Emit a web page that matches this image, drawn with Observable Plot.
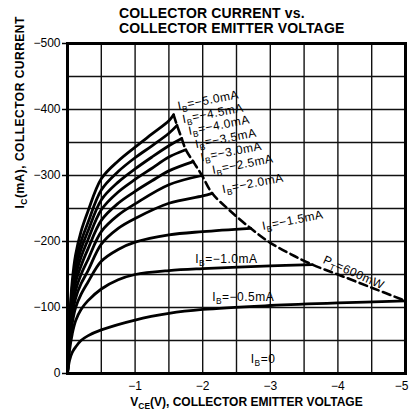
<!DOCTYPE html>
<html><head><meta charset="utf-8">
<script src="https://cdn.jsdelivr.net/npm/d3@7"></script>
<script src="https://cdn.jsdelivr.net/npm/@observablehq/plot@0.6"></script>
<style>
body{margin:0;background:#fff;}
#title{height:40px;box-sizing:border-box;padding:6px 0 0 119px;font:bold 14px/15px "Liberation Sans",Arial,sans-serif;color:#000;letter-spacing:0.15px;}
#chart svg{overflow:visible;}
</style></head><body>
<div id="title">COLLECTOR CURRENT vs.<br>COLLECTOR EMITTER VOLTAGE</div>
<div id="chart"></div>
<script>
// V_CE (V) and I_C (mA) pairs, one array per base current
const ib50 = [[0,0],[-0.03,-80],[-0.07,-140],[-0.12,-180],[-0.2,-215],[-0.3,-245],[-0.5,-295],[-0.75,-322],[-1.0,-343],[-1.25,-363],[-1.5,-383],[-1.57,-392]];
const ib45 = [[0,0],[-0.03,-75],[-0.07,-130],[-0.12,-168],[-0.2,-200],[-0.3,-228],[-0.5,-278],[-0.75,-306],[-1.0,-327],[-1.25,-345],[-1.5,-364],[-1.62,-376]];
const ib40 = [[0,0],[-0.03,-70],[-0.07,-122],[-0.12,-158],[-0.2,-188],[-0.3,-215],[-0.5,-263],[-0.75,-290],[-1.0,-310],[-1.25,-328],[-1.5,-345],[-1.69,-356]];
const ib35 = [[0,0],[-0.03,-65],[-0.07,-115],[-0.12,-148],[-0.2,-176],[-0.3,-202],[-0.5,-248],[-0.75,-275],[-1.0,-294],[-1.25,-311],[-1.5,-328],[-1.75,-339]];
const ib30 = [[0,0],[-0.03,-60],[-0.07,-105],[-0.12,-138],[-0.2,-163],[-0.3,-188],[-0.5,-232],[-0.75,-258],[-1.0,-276],[-1.25,-292],[-1.5,-307],[-1.86,-321]];
const ib25 = [[0,0],[-0.03,-55],[-0.07,-97],[-0.12,-126],[-0.2,-150],[-0.3,-172],[-0.5,-215],[-0.75,-240],[-1.0,-257],[-1.5,-286],[-1.99,-300]];
const ib20 = [[0,0],[-0.03,-50],[-0.07,-88],[-0.12,-114],[-0.2,-136],[-0.3,-155],[-0.5,-196],[-0.75,-220],[-1.0,-235],[-1.5,-258],[-2.0,-269],[-2.14,-273]];
const ib15 = [[0,0],[-0.03,-45],[-0.07,-76],[-0.12,-100],[-0.2,-120],[-0.3,-138],[-0.5,-170],[-0.75,-188],[-1.0,-199],[-1.5,-210],[-2.0,-215],[-2.71,-220]];
const ib10 = [[0,0],[-0.03,-35],[-0.07,-60],[-0.12,-80],[-0.2,-97],[-0.3,-110],[-0.5,-128],[-0.75,-142],[-1.0,-150],[-1.5,-156],[-2.0,-159],[-3.0,-163],[-3.62,-165]];
const ib05 = [[0,0],[-0.03,-20],[-0.07,-32],[-0.12,-40],[-0.2,-50],[-0.3,-57],[-0.5,-66],[-1.0,-81],[-1.5,-91],[-2.0,-97],[-3.0,-103],[-4.0,-107],[-5.0,-110]];
// Pt = 600 mW limit line
const ptLine = [[-1.57,-392],[-1.62,-376],[-1.69,-356],[-1.75,-339],[-1.86,-321],[-1.99,-300],[-2.14,-273],[-2.4,-247],[-2.71,-220],[-3.0,-198],[-3.3,-181],[-3.62,-165],[-4.0,-150],[-4.5,-130],[-5.0,-110]];

const slopedText = ["I{B}=−5.0mA","I{B}=−4.5mA","I{B}=−4.0mA","I{B}=−3.5mA","I{B}=−3.0mA","I{B}=−2.5mA","I{B}=−2.0mA","I{B}=−1.5mA"];
const slopedV = [-1.63,-1.70,-1.79,-1.89,-1.97,-2.14,-2.29,-2.88];
const slopedI = [-405,-385,-367,-347,-327,-308,-279,-223];
const flatText = ["I{B}=−1.0mA","I{B}=−0.5mA","I{B}=0"];
const flatV = [-1.89,-2.14,-2.71];
const flatI = [-173,-115,-21];
const ptText = ["P{T}=600mW"];
const ptV = [-3.79];
const ptI = [-173];

const xTicks = [-1,-2,-3,-4,-5];
const yTicks = [0,-100,-200,-300,-400,-500];
const xGrid = [-0.5,-1,-1.5,-2,-2.5,-3,-3.5,-4,-4.5];
const yGrid = [-50,-100,-150,-200,-250,-300,-350,-400,-450];

const curves = [ib50,ib45,ib40,ib35,ib30,ib25,ib20,ib15,ib10,ib05];
const fmt = d => d === 0 ? "0" : "−" + Math.abs(d);
const idx = a => a.map((_, i) => i);

const curveMarks = curves.map(c => Plot.line(c, {x: d => d[0], y: d => d[1], stroke: "#000", strokeWidth: 2.8, curve: "catmull-rom", strokeLinecap: "round"}));
const lab = {textAnchor: "start", fontSize: 12, fill: "#000"};

const chart = Plot.plot({
  width: 409, height: 375,
  marginTop: 3, marginLeft: 67, marginRight: 4, marginBottom: 42,
  style: {fontFamily: "'Liberation Sans', Arial, sans-serif", fontSize: "12px", color: "#000", background: "#fff"},
  x: {domain: [0, -5]},
  y: {domain: [0, -500]},
  marks: [
    Plot.ruleX(xGrid, {stroke: "#111", strokeWidth: 1.4}),
    Plot.ruleY(yGrid, {stroke: "#111", strokeWidth: 1.4}),
    Plot.axisY({ticks: yTicks, tickSize: 5, tickPadding: 2, tickFormat: fmt, label: null, strokeWidth: 1.5}),
    Plot.axisX({ticks: xTicks, tickSize: 0, tickPadding: 8, tickFormat: fmt, label: null}),
    ...curveMarks,
    Plot.line(ptLine, {x: d => d[0], y: d => d[1], stroke: "#000", strokeWidth: 2.6, strokeDasharray: "8,4.5", curve: "catmull-rom"}),
    Plot.frame({stroke: "#000", strokeWidth: 3}),
    Plot.text(idx(slopedText), {...lab, x: i => slopedV[i], y: i => slopedI[i], text: i => slopedText[i], rotate: -11}),
    Plot.text(idx(flatText), {...lab, x: i => flatV[i], y: i => flatI[i], text: i => flatText[i]}),
    Plot.text(idx(ptText), {...lab, x: i => ptV[i], y: i => ptI[i], text: i => ptText[i], rotate: 24}),
    Plot.text(["V{CE}(V), COLLECTOR EMITTER VOLTAGE"], {frameAnchor: "bottom", dx: 10, dy: 32, fontWeight: "bold", fontSize: 12, fill: "#000"}),
    Plot.text(["I{C}(mA), COLLECTOR CURRENT"], {frameAnchor: "left", dx: -47, rotate: -90, fontWeight: "bold", fontSize: 12, fill: "#000"})
  ]
});

// render {X} as subscripts
const NS = "http://www.w3.org/2000/svg";
chart.querySelectorAll("text").forEach(t => {
  const s = t.textContent;
  if (s === "−5") t.setAttribute("dx", "-4");
  if (!s.includes("{")) return;
  if (s.includes("mA") || s.includes("mW") || s.includes("=0")) t.setAttribute("letter-spacing", "0.5");
  while (t.firstChild) t.removeChild(t.firstChild);
  let shifted = false;
  for (const p of s.split(/(\{[^}]*\})/)) {
    if (!p) continue;
    const ts = document.createElementNS(NS, "tspan");
    if (p.startsWith("{")) {
      ts.textContent = p.slice(1, -1);
      ts.setAttribute("font-size", "70%");
      ts.setAttribute("dy", "3");
      shifted = true;
    } else {
      ts.textContent = p;
      if (shifted) { ts.setAttribute("dy", "-3"); shifted = false; }
    }
    t.appendChild(ts);
  }
});
document.getElementById("chart").appendChild(chart);
</script>
</body></html>
